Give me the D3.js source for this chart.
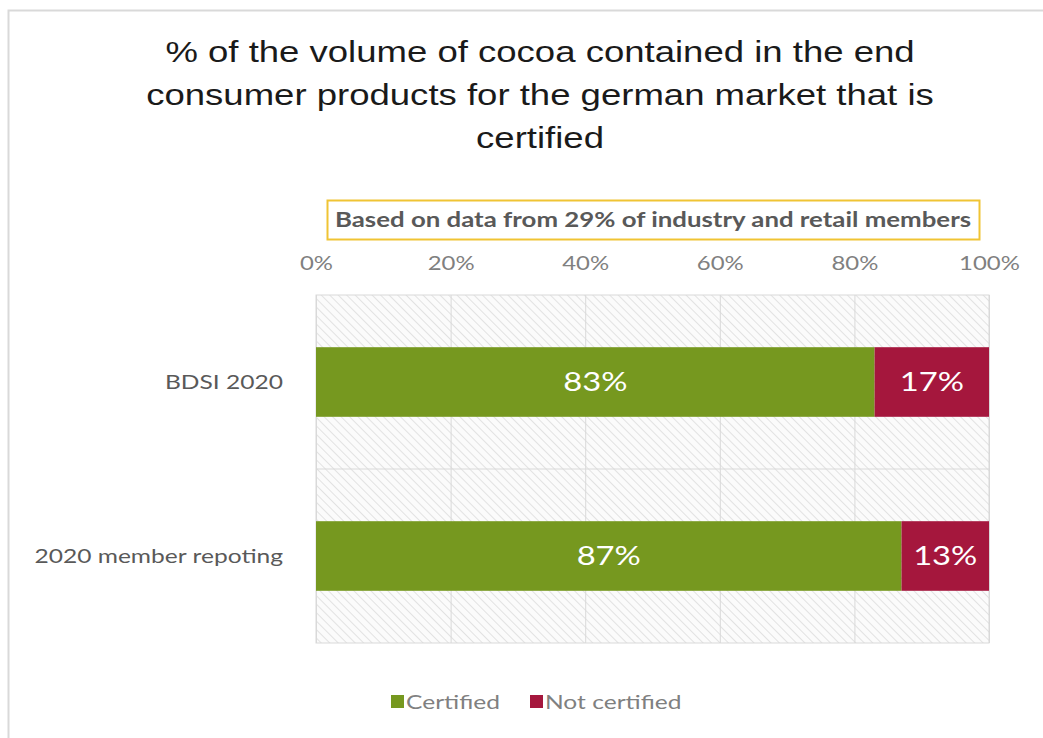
<!DOCTYPE html>
<html>
<head>
<meta charset="utf-8">
<script src="https://cdn.jsdelivr.net/npm/d3@7"></script>
<style>
  body { margin: 0; background: #fff; }
  svg text { font-family: Lato, "Open Sans", sans-serif; }
</style>
</head>
<body>
<div id="Chart"></div>
<script>
var w = 1043;
var h = 738;

// data
var categories = ["BDSI 2020", "2020 member repoting"];
var certified = [83, 87];
var notCertified = [17, 13];
var seriesNames = ["Certified", "Not certified"];
var ticks = [0, 20, 40, 60, 80, 100];
var titleLines = ["% of the volume of cocoa contained in the end",
                  "consumer products for the german market that is",
                  "certified"];
var note = "Based on data from 29% of industry and retail members";

var green = "#76981f";
var red = "#a5173d";
var sx = 1.26; // the source image is stretched sideways

function place(px, py) {
    return "translate(" + px + "," + py + ") scale(" + sx + ",1)";
}

var svg = d3.select("#Chart").append("svg")
    .attr("width", w)
    .attr("height", h)

var defs = svg.append("defs");
var pat = defs.append("pattern")
    .attr("id", "hatch")
    .attr("patternUnits", "userSpaceOnUse")
    .attr("width", 6)
    .attr("height", 6)
    .attr("patternTransform", "rotate(-45)");
pat.append("rect").attr("width", 6).attr("height", 6).attr("fill", "#fbfbfb");
pat.append("line")
    .attr("x1", 0).attr("y1", 0).attr("x2", 0).attr("y2", 6)
    .attr("stroke", "#dcdcdc").attr("stroke-width", 1.6);

// outer chart border
svg.append("rect")
    .attr("x", 8.5).attr("y", 10.5)
    .attr("width", 1100).attr("height", 800)
    .attr("fill", "none")
    .attr("stroke", "#d9d9d9")
    .attr("stroke-width", 2);

// title
svg.append("g").selectAll("text")
    .data(titleLines)
    .enter()
    .append("text")
    .attr("transform", function(d, i){ return place(540, 62 + i * 43); })
    .attr("text-anchor", "middle")
    .style("font-family", "'Liberation Sans', Arial, sans-serif")
    .style("font-size", "29px")
    .attr("fill", "#1a1a1a")
    .text(function(d){ return d; });

var pLeft = 316, pRight = 989, pTop = 295, pBottom = 643;

var x = d3.scaleLinear().domain([0, 100]).range([pLeft, pRight]);
var y = d3.scaleBand().domain(categories).range([pTop, pBottom]).paddingInner(0.6).paddingOuter(0.3);
var band = d3.scaleBand().domain(categories).range([pTop, pBottom]);

// note box
svg.append("rect")
    .attr("x", 327.5).attr("y", 200.5)
    .attr("width", 652).attr("height", 39)
    .attr("fill", "#fff")
    .attr("stroke", "#f0c434")
    .attr("stroke-width", 2);
svg.append("text")
    .attr("transform", place(653, 227))
    .attr("text-anchor", "middle")
    .style("font-size", "20.5px")
    .style("font-weight", "bold")
    .attr("fill", "#595959")
    .text(note);

// plot background + grid
svg.append("rect")
    .attr("x", pLeft).attr("y", pTop)
    .attr("width", pRight - pLeft).attr("height", pBottom - pTop)
    .attr("fill", "url(#hatch)")
    .attr("stroke", "#d9d9d9");

svg.append("g")
    .attr("transform", "translate(0," + pTop + ")")
    .call(d3.axisBottom(x).tickValues(ticks).tickSize(pBottom - pTop).tickFormat(""))
    .call(function(g){
        g.select(".domain").remove();
        g.selectAll("line").attr("stroke", "#d9d9d9");
    });

svg.append("g").selectAll("line")
    .data(categories.slice(1))
    .enter()
    .append("line")
    .attr("x1", pLeft).attr("x2", pRight)
    .attr("y1", function(d){ return band(d); })
    .attr("y2", function(d){ return band(d); })
    .attr("stroke", "#d9d9d9");

// top axis labels
svg.append("g")
    .attr("transform", "translate(0,270)")
    .call(d3.axisTop(x).tickValues(ticks).tickSize(0).tickFormat(function(d){ return d + "%"; }))
    .call(function(g){
        g.select(".domain").remove();
        g.selectAll("text")
            .attr("y", 0)
            .attr("transform", "scale(" + sx + ",1)")
            .style("font-size", "19px")
            .style("font-family", "Lato, 'Open Sans', sans-serif")
            .attr("fill", "#808080");
    });

// bars
var cert = svg.append("g").attr("class", "Certified");
var notc = svg.append("g").attr("class", "NotCertified");

cert.selectAll("rect")
    .data(certified)
    .enter()
    .append("rect")
    .attr("x", x(0))
    .attr("y", function(d, i){ return y(categories[i]); })
    .attr("width", function(d){ return x(d) - x(0); })
    .attr("height", y.bandwidth())
    .attr("fill", green);

notc.selectAll("rect")
    .data(notCertified)
    .enter()
    .append("rect")
    .attr("x", function(d, i){ return x(certified[i]); })
    .attr("y", function(d, i){ return y(categories[i]); })
    .attr("width", function(d, i){ return x(certified[i] + d) - x(certified[i]); })
    .attr("height", y.bandwidth())
    .attr("fill", red);

cert.selectAll("text")
    .data(certified)
    .enter()
    .append("text")
    .attr("transform", function(d, i){
        return place(x(d / 2), y(categories[i]) + y.bandwidth() / 2 + 9);
    })
    .attr("text-anchor", "middle")
    .style("font-size", "26px")
    .attr("fill", "#fff")
    .text(function(d){ return d + "%"; });

notc.selectAll("text")
    .data(notCertified)
    .enter()
    .append("text")
    .attr("transform", function(d, i){
        return place(x(certified[i] + d / 2), y(categories[i]) + y.bandwidth() / 2 + 9);
    })
    .attr("text-anchor", "middle")
    .style("font-size", "26px")
    .attr("fill", "#fff")
    .text(function(d){ return d + "%"; });

// category labels
svg.append("g").selectAll("text")
    .data(categories)
    .enter()
    .append("text")
    .attr("transform", function(d){ return place(283, y(d) + y.bandwidth() / 2 + 7); })
    .attr("text-anchor", "end")
    .style("font-size", "19.5px")
    .attr("fill", "#595959")
    .text(function(d){ return d; });

// legend
var legX = [391, 530];
var leg = svg.append("g").selectAll("g")
    .data(seriesNames)
    .enter()
    .append("g")
    .attr("transform", function(d, i){ return "translate(" + legX[i] + ",702)"; });
leg.append("rect")
    .attr("x", 0).attr("y", -7)
    .attr("width", 13).attr("height", 13)
    .attr("fill", function(d, i){ return i == 0 ? green : red; });
leg.append("text")
    .attr("transform", place(15, 7))
    .style("font-size", "19.5px")
    .attr("fill", "#808080")
    .text(function(d){ return d; });
</script>
</body>
</html>
